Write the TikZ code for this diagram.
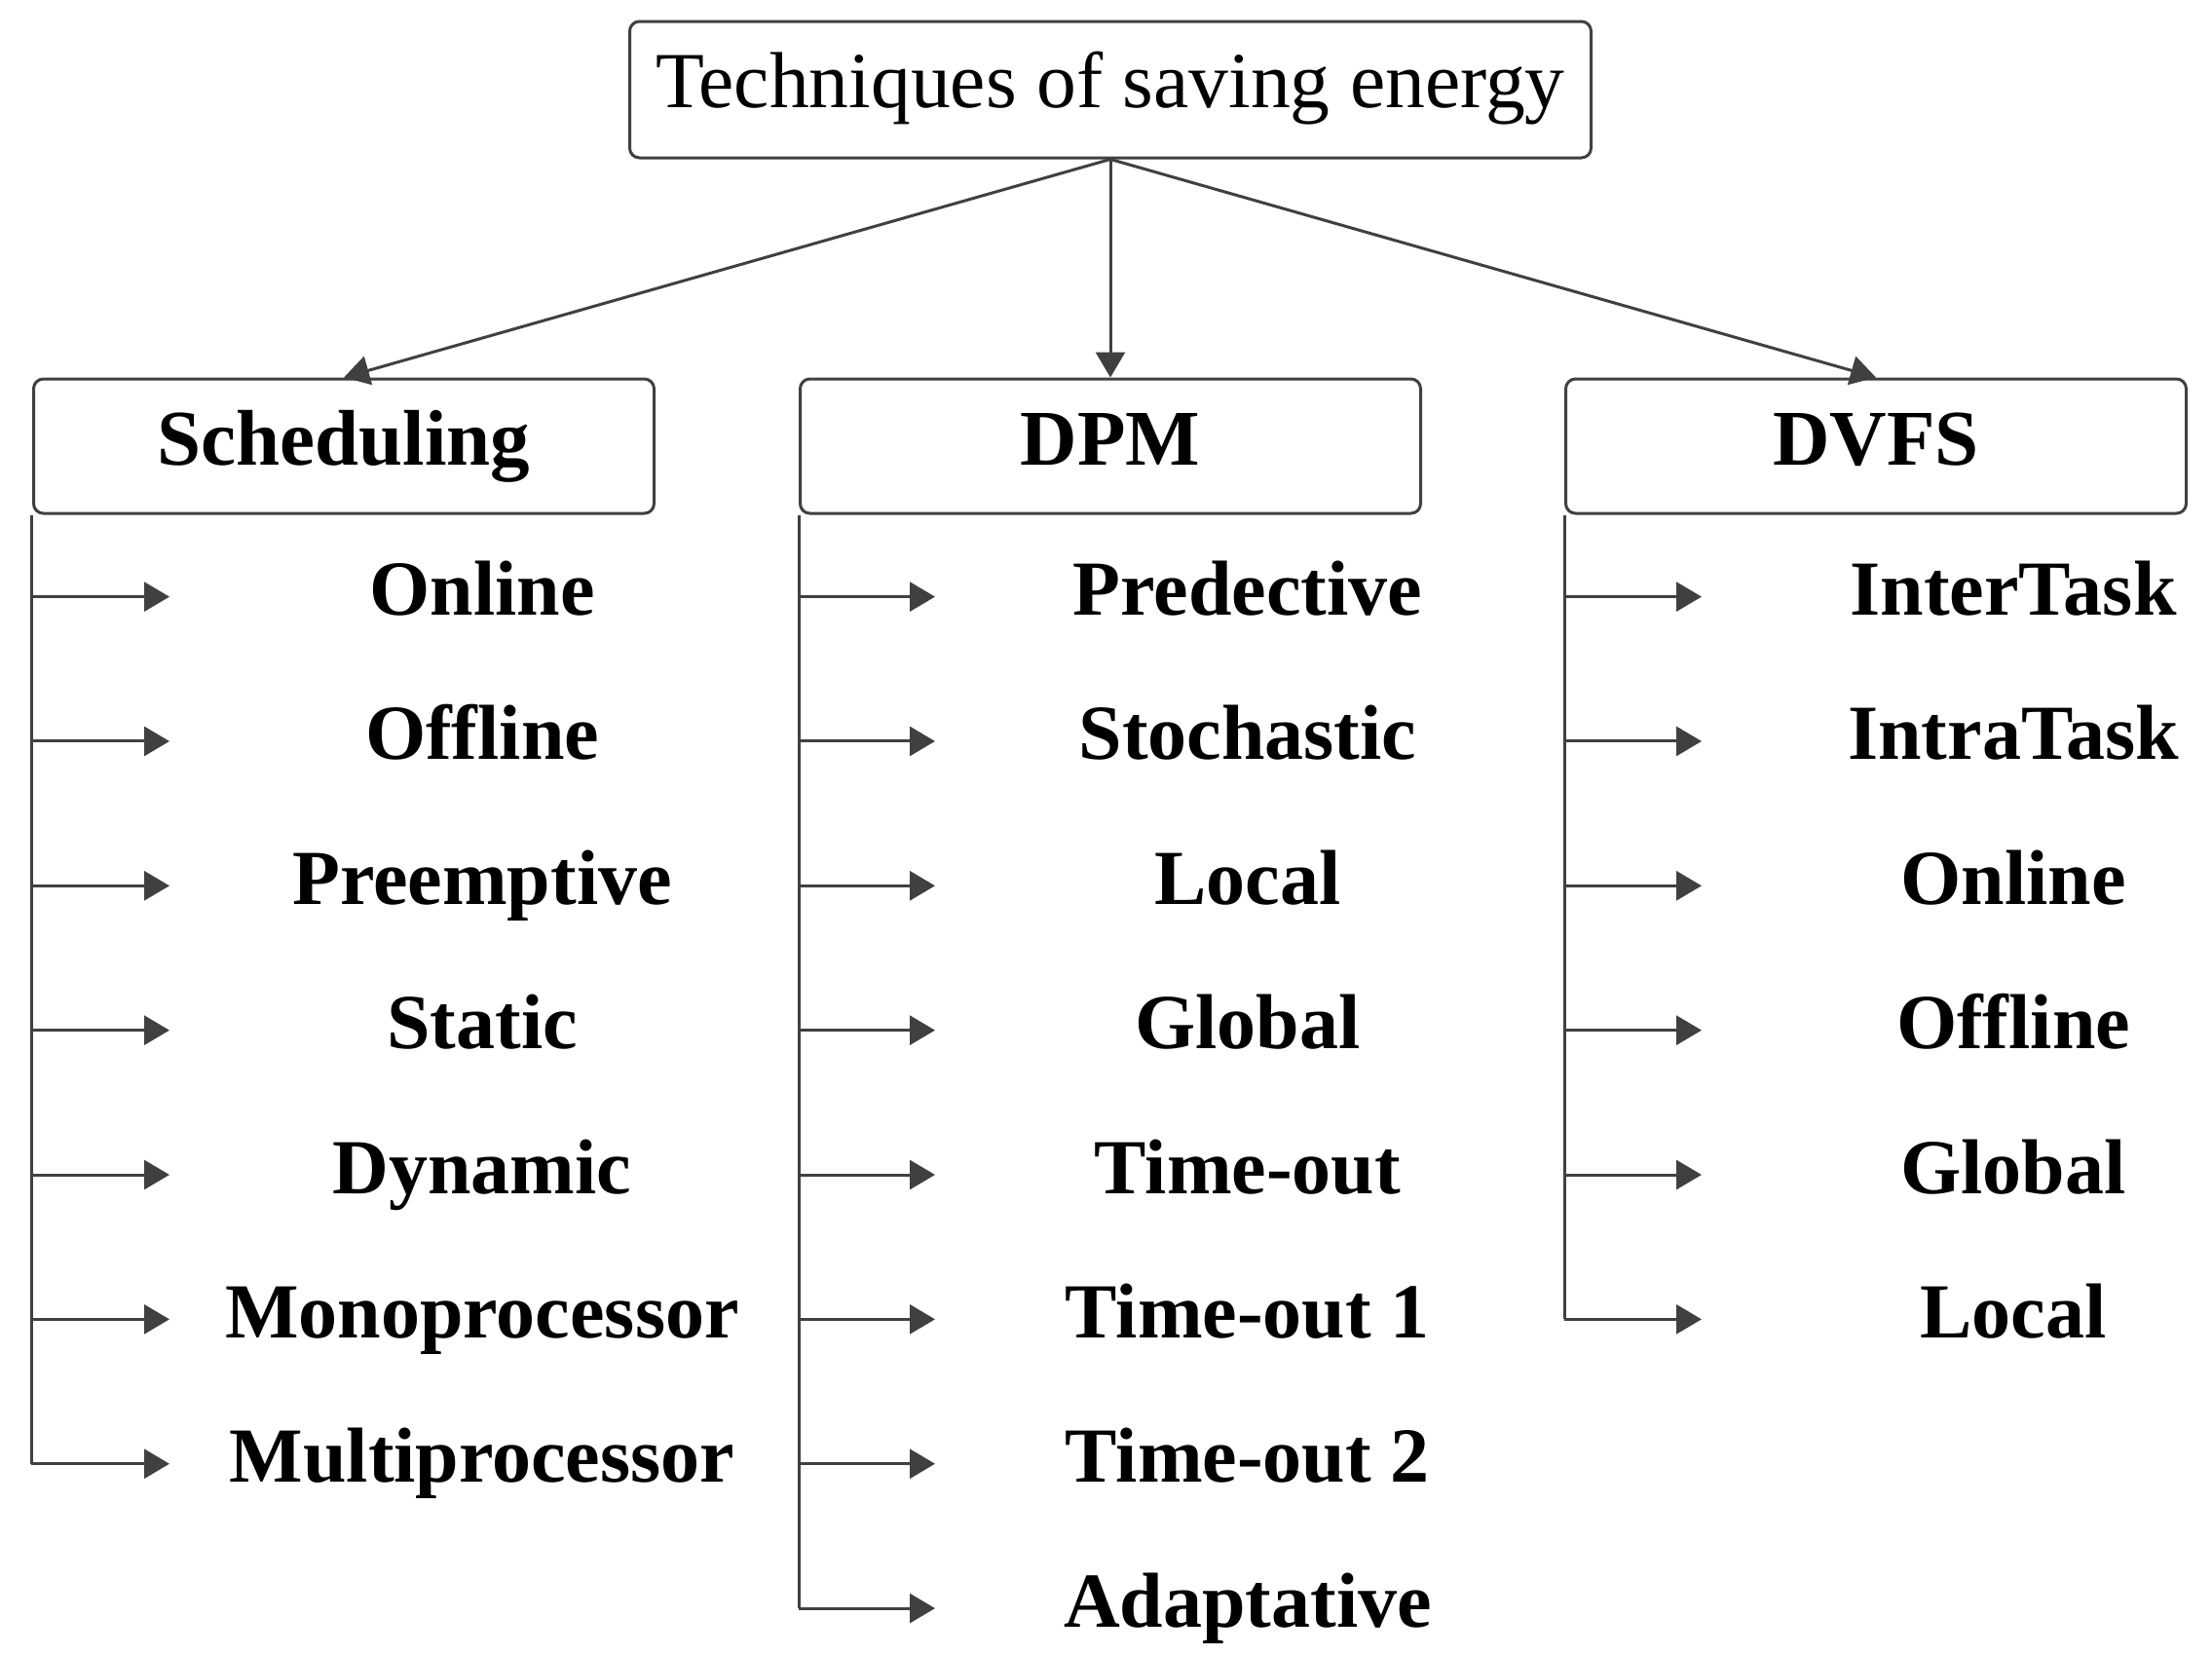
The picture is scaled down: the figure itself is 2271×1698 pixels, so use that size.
\documentclass[tikz,border=0pt]{standalone}
\usepackage{fontspec}
\setmainfont{Liberation Serif}
\usetikzlibrary{arrows.meta}
\definecolor{lc}{HTML}{404040}
\begin{document}
\begin{tikzpicture}[x=0.5pt,y=-0.5pt,
  box/.style={draw=lc, line width=1.5pt, rounded corners=5pt, minimum width=318.5pt, minimum height=69pt, inner sep=0pt, text height=19pt, text depth=0pt, font=\fontsize{40.5}{43}\selectfont\bfseries},
  item/.style={inner sep=0pt, text height=19pt, text depth=0pt, font=\fontsize{40}{43}\selectfont\bfseries},
  conn/.style={draw=lc, line width=1.5pt, -{Triangle[length=13pt,width=15pt]}},
  trunk/.style={draw=lc, line width=1.5pt}]
\useasboundingbox (0,0) rectangle (2271,1698);
\node[box, minimum width=493.5pt, minimum height=70pt, text height=18pt, font=\fontsize{40.8}{43}\selectfont] (top) at (1140,92) {Techniques of saving energy};
\node[box] (sch) at (353,458) {Scheduling};
\node[box] (dpm) at (1140,458) {DPM};
\node[box] (dvfs) at (1926,458) {DVFS};
\draw[conn] (top.south) -- (sch.north);
\draw[conn] (top.south) -- (dpm.north);
\draw[conn] (top.south) -- (dvfs.north);
% Scheduling
\foreach \t [count=\i from 0] in {Online,Offline,Preemptive,Static,Dynamic,Monoprocessor,Multiprocessor}{
  \pgfmathsetmacro{\yy}{612.6+148.35*\i}
  \node[item] (s\i) at (495,\yy) {\t};
  \coordinate (sa\i) at (174,\yy);
  \coordinate (sb\i) at (32,\yy);
  \draw[conn] (sb\i) -- (sa\i);
}
\coordinate (st) at (32,529);
\draw[trunk] (st) -- (sb6);
% DPM
\foreach \t [count=\i from 0] in {Predective,Stochastic,Local,Global,Time-out,Time-out 1,Time-out 2,Adaptative}{
  \pgfmathsetmacro{\yy}{612.6+148.35*\i}
  \node[item] (d\i) at (1281,\yy) {\t};
  \coordinate (da\i) at (960,\yy);
  \coordinate (db\i) at (820,\yy);
  \draw[conn] (db\i) -- (da\i);
}
\coordinate (dt) at (820,529);
\draw[trunk] (dt) -- (db7);
% DVFS
\foreach \t [count=\i from 0] in {InterTask,IntraTask,Online,Offline,Global,Local}{
  \pgfmathsetmacro{\yy}{612.6+148.35*\i}
  \node[item] (v\i) at (2067,\yy) {\t};
  \coordinate (va\i) at (1747,\yy);
  \coordinate (vb\i) at (1606,\yy);
  \draw[conn] (vb\i) -- (va\i);
}
\coordinate (vt) at (1606,529);
\draw[trunk] (vt) -- (vb5);
\end{tikzpicture}
\end{document}
